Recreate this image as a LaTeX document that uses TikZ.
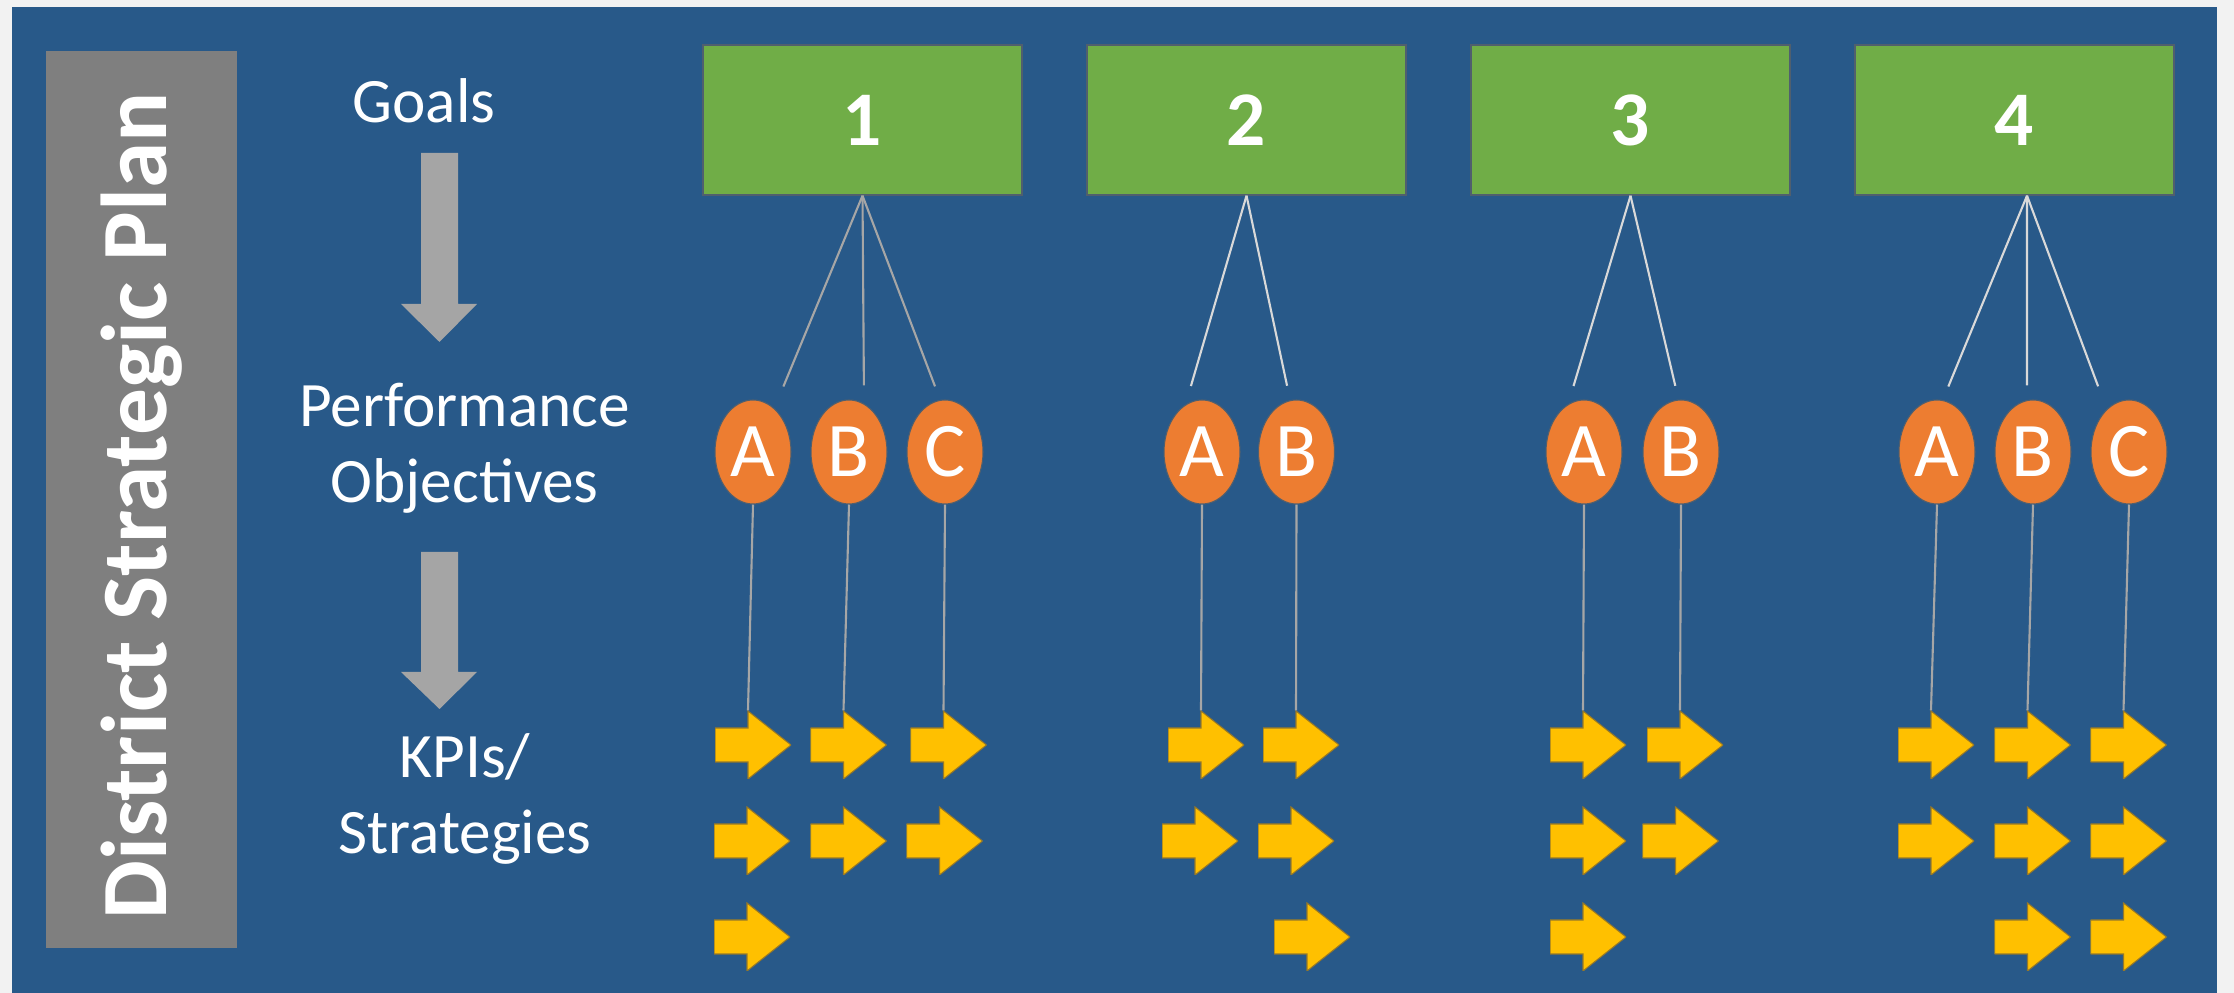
\documentclass[tikz,border=0pt]{standalone}
\usepackage{fontspec}
\setmainfont{Carlito}
\usetikzlibrary{shapes.geometric}

\definecolor{pagegray}{RGB}{242,242,242}
\definecolor{planblue}{RGB}{40,89,137}
\definecolor{sidegray}{RGB}{127,127,127}
\definecolor{goalgreen}{RGB}{112,173,71}
\definecolor{objorange}{RGB}{237,125,49}
\definecolor{kpigold}{RGB}{255,192,0}
\definecolor{kpiedge}{RGB}{150,120,40}
\definecolor{flowgray}{RGB}{165,165,165}
\definecolor{edgegray}{RGB}{80,95,110}
\definecolor{linkdark}{RGB}{166,166,166}
\definecolor{linklight}{RGB}{217,217,217}

\begin{document}
\begin{tikzpicture}[	every node/.style={text=white},%
					goal/.style={draw=edgegray,line width=.4pt,fill=goalgreen,minimum width=3.19cm,minimum height=1.5cm,inner sep=0pt,font=\fontsize{22}{26}\selectfont\bfseries},%
					obj/.style={ellipse,draw=edgegray,line width=.3pt,fill=objorange,minimum width=.76cm,minimum height=1.04cm,inner sep=0pt,font=\fontsize{22}{26}\selectfont},%
					kpi/.style={minimum width=7.6mm,minimum height=6.8mm,inner sep=0pt,%
						path picture={\fill[kpigold,draw=kpiedge,line width=.3pt] ([yshift=-1.7mm]path picture bounding box.west) -- ++(3.3mm,0) -- ++(0,-1.7mm) -- (path picture bounding box.east) -- ++(-4.3mm,3.4mm) -- ++(0,-1.7mm) -- ++(-3.3mm,0) -- cycle;}},%
					rowtext/.style={align=center,anchor=base,font=\fontsize{18}{21.9}\selectfont},%
					tieline/.style={line width=.6pt,draw=linkdark}]

\fill[pagegray] (0,0) rectangle (22.34,9.93);
\fill[planblue] (0.12,0) rectangle (22.17,9.86);

\node[fill=sidegray,minimum width=1.91cm,minimum height=8.97cm,inner sep=0pt] (plan) at (1.415,4.935) {};
\node[rotate=90,inner sep=0pt,font=\fontsize{26.6}{31}\selectfont\bfseries] (plantext) at (1.415,4.87) {District Strategic Plan};

\node[rowtext] (goals) at (4.24,8.70) {Goals};
\node[rowtext] (perf) at (4.645,4.90) {Performance\\Objectives};
\node[rowtext] (kpis) at (4.65,1.39) {KPIs/\\Strategies};

\foreach \t/\h/\p in {8.40/6.89/6.51, 4.41/3.21/2.84}
	\fill[flowgray] (4.21,\t) -- (4.58,\t) -- (4.58,\h) -- (4.77,\h) -- (4.395,\p) -- (4.01,\h) -- (4.21,\h) -- cycle;

\foreach \a/\b in {1/8.625,2/12.465,3/16.305,4/20.145}
	\node[goal] (g\a) at (\b,8.73) {\a};

\foreach \a/\b/\c in {o1a/7.53/A,o1b/8.49/B,o1c/9.45/C,o2a/12.02/A,o2b/12.965/B,o3a/15.84/A,o3b/16.81/B,o4a/19.37/A,o4b/20.33/B,o4c/21.29/C}
	\node[obj] (\a) at (\b,5.41) {\c};

\foreach \a/\b/\c in {k1a1/7.53/2.48,k1a2/7.52/1.52,k1a3/7.52/0.56,k1b1/8.485/2.48,k1b2/8.485/1.52,k1c1/9.485/2.48,k1c2/9.445/1.52,%
		k2a1/12.06/2.48,k2a2/12.00/1.52,k2b1/13.01/2.48,k2b2/12.96/1.52,k2b3/13.12/0.56,%
		k3a1/15.88/2.48,k3a2/15.88/1.52,k3a3/15.88/0.56,k3b1/16.85/2.48,k3b2/16.805/1.52,%
		k4a1/19.36/2.48,k4a2/19.36/1.52,k4b1/20.325/2.48,k4b2/20.325/1.52,k4b3/20.325/0.56,k4c1/21.285/2.48,k4c2/21.285/1.52,k4c3/21.285/0.56}
	\node[kpi] (\a) at (\b,\c) {};

\foreach \from/\s/\to/\d/\c in {g1/0/o1a/.25/linkdark,g1/0/o1b/.15/linkdark,g1/0/o1c/-.05/linkdark,%
		g2/0/o2a/-.15/linklight,g2/0/o2b/-.065/linklight,g3/0/o3a/-.145/linklight,g3/0/o3b/-.025/linklight,%
		g4/.125/o4a/.06/linklight,g4/.125/o4b/-.06/linklight,g4/.125/o4c/-.26/linklight}
	\draw[tieline,draw=\c,shorten >=.14cm] ([xshift=\s cm]\from.south) -- ([xshift=\d cm]\to.north);

\foreach \from/\to in {o1a/k1a1,o1b/k1b1,o1c/k1c1,o2a/k2a1,o2b/k2b1,o3a/k3a1,o3b/k3b1,o4a/k4a1,o4b/k4b1,o4c/k4c1}
	\draw[tieline] (\from.south) -- ([xshift=-.05cm]\to.north);

\end{tikzpicture}
\end{document}
